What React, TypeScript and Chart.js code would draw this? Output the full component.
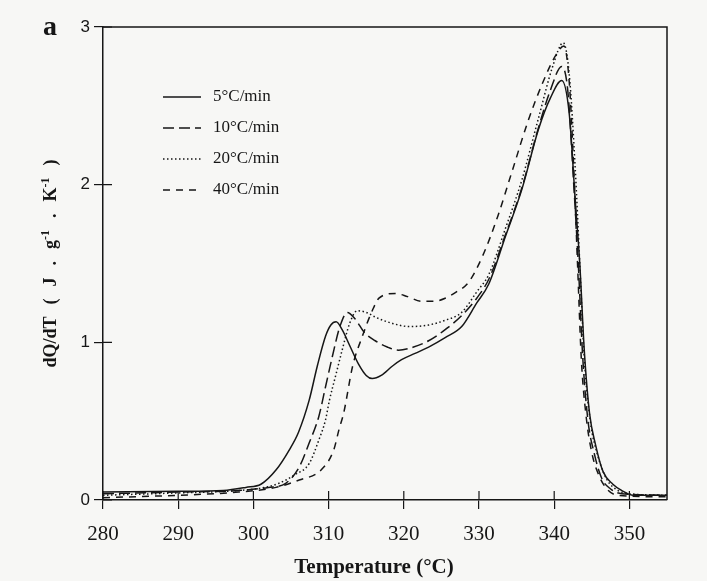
import React, { useEffect, useRef } from 'react';
import { Chart, registerables } from 'chart.js';

Chart.register(...registerables);

const xTickValues = [280, 290, 300, 310, 320, 330, 340, 350];
const yTickValues = [0, 1, 2, 3];
const seriesLabels = ['5°C/min', '10°C/min', '20°C/min', '40°C/min'];

const temp5 = [280, 290, 296, 299, 301, 303, 304.8, 306, 307.4, 308.5, 309.6, 310.3, 311, 311.8, 312.8, 314, 315, 315.8, 317, 318.5, 319.7, 321.5, 323.3, 325.5, 327.7, 329.7, 331.3, 333.5, 335.7, 337.9, 339.5, 341, 342, 342.8, 343.4, 344, 344.7, 345.5, 346.5, 347.8, 349, 350.5, 355];
const dq5 = [0.05, 0.055, 0.06, 0.08, 0.1, 0.19, 0.32, 0.43, 0.63, 0.85, 1.04, 1.11, 1.13, 1.08, 0.98, 0.86, 0.79, 0.77, 0.79, 0.85, 0.89, 0.93, 0.97, 1.03, 1.1, 1.25, 1.37, 1.67, 1.97, 2.35, 2.55, 2.66, 2.45, 1.9, 1.5, 0.95, 0.55, 0.35, 0.18, 0.1, 0.06, 0.03, 0.03];

const temp10 = [280, 290, 298, 302, 304.3, 306.1, 307.4, 308.7, 309.6, 310.5, 311.5, 312.5, 313.5, 314.8, 316.2, 317.8, 319.3, 321.3, 323.3, 325.5, 327.7, 329.7, 331.3, 333.5, 335.7, 337.9, 339.5, 341, 341.8, 342.6, 343.2, 343.8, 344.5, 345.3, 346.3, 347.5, 349, 355];
const dq10 = [0.04, 0.05, 0.06, 0.08, 0.106, 0.21, 0.36, 0.53, 0.72, 0.91, 1.1, 1.19, 1.15, 1.06, 1.01, 0.97, 0.95, 0.97, 1.01, 1.08, 1.17, 1.28, 1.4, 1.68, 1.98, 2.36, 2.6, 2.75, 2.6, 2.0, 1.5, 0.9, 0.5, 0.3, 0.14, 0.07, 0.04, 0.03];

const temp20 = [280, 290, 298, 301.5, 303.4, 305.5, 307.4, 308.7, 309.6, 310.1, 311, 311.8, 312.8, 313.8, 315, 316.2, 318.5, 320.7, 323.3, 325.5, 327.7, 329.7, 331.3, 333.5, 335.7, 337.9, 339.8, 341.2, 342, 342.8, 343.4, 344, 344.8, 345.8, 347, 348.5, 350, 355];
const dq20 = [0.03, 0.045, 0.06, 0.08, 0.106, 0.16, 0.23, 0.38, 0.51, 0.63, 0.8, 0.95, 1.12, 1.2, 1.19, 1.16, 1.12, 1.1, 1.11, 1.14, 1.19, 1.32, 1.43, 1.72, 2.03, 2.42, 2.75, 2.9, 2.7, 2.1, 1.5, 0.9, 0.5, 0.28, 0.13, 0.06, 0.04, 0.03];

const temp40 = [280, 290, 298, 303, 306.1, 309, 310.7, 311.4, 312, 313.2, 314.5, 315.8, 316.7, 318.9, 320.5, 322.4, 324, 325.5, 327, 328.6, 330.5, 332.5, 334.5, 336.5, 338.5, 340.2, 341.3, 342, 342.6, 343.1, 343.6, 344.2, 345, 346, 347.2, 348.5, 355];
const dq40 = [0.015, 0.03, 0.05, 0.08, 0.127, 0.19, 0.32, 0.45, 0.55, 0.85, 1.04, 1.2, 1.28, 1.31, 1.29, 1.26, 1.26, 1.28, 1.32, 1.38, 1.55, 1.8, 2.1, 2.4, 2.65, 2.82, 2.88, 2.65, 2.1, 1.5, 0.9, 0.55, 0.3, 0.15, 0.06, 0.03, 0.02];

const seriesTemps = [temp5, temp10, temp20, temp40];
const seriesValues = [dq5, dq10, dq20, dq40];
const seriesDashes: number[][] = [[], [11, 5], [1.5, 2.5], [7, 6]];

// y-axis title tokens: [text, isSuperscript]
const yTitleTokens: [string, boolean][] = [
  ['dQ/dT', false], ['(', false], ['J', false], ['.', false], ['g', false], ['-1', true],
  ['.', false], ['K', false], ['-1', true], [')', false],
];

const INK = '#161616';
const SERIF = '"Liberation Serif", "Times New Roman", serif';
const SANS = '"Liberation Sans", Arial, sans-serif';

const decorPlugin = {
  id: 'decor',
  afterDatasetsDraw(chart: any) {
    const { ctx, chartArea } = chart;
    const xs = chart.scales.x;
    const ys = chart.scales.y;
    ctx.save();
    ctx.strokeStyle = INK;
    ctx.lineWidth = 1.5;
    // top and right frame
    ctx.beginPath();
    ctx.moveTo(chartArea.left, chartArea.top);
    ctx.lineTo(chartArea.right, chartArea.top);
    ctx.lineTo(chartArea.right, chartArea.bottom);
    ctx.stroke();
    // inner tick marks
    ctx.lineWidth = 1.2;
    ctx.beginPath();
    xTickValues.forEach((v) => {
      const px = xs.getPixelForValue(v);
      ctx.moveTo(px, chartArea.bottom);
      ctx.lineTo(px, chartArea.bottom - 9);
    });
    yTickValues.forEach((v) => {
      const py = ys.getPixelForValue(v);
      ctx.moveTo(chartArea.left, py);
      ctx.lineTo(chartArea.left + 9, py);
    });
    ctx.stroke();
    // legend
    const lx = chartArea.left + 60;
    const ly = chartArea.top + 70;
    chart.data.datasets.forEach((ds: any, i: number) => {
      const y = ly + i * 31;
      ctx.save();
      ctx.setLineDash(ds.borderDash || []);
      ctx.lineWidth = 1.4;
      ctx.strokeStyle = INK;
      ctx.beginPath();
      ctx.moveTo(lx, y);
      ctx.lineTo(lx + 38, y);
      ctx.stroke();
      ctx.restore();
      ctx.fillStyle = INK;
      ctx.font = '17px ' + SERIF;
      ctx.textAlign = 'left';
      ctx.textBaseline = 'middle';
      ctx.fillText(ds.label, lx + 50, y);
    });
    // x title
    ctx.fillStyle = INK;
    ctx.font = 'bold 21px ' + SERIF;
    ctx.textAlign = 'center';
    ctx.textBaseline = 'middle';
    ctx.fillText('Temperature (°C)', (chartArea.left + chartArea.right) / 2 - 11, chartArea.bottom + 68);
    // y title (rotated, tokens with superscripts)
    ctx.save();
    ctx.translate(chartArea.left - 53, (chartArea.top + chartArea.bottom) / 2);
    ctx.rotate(-Math.PI / 2);
    ctx.textAlign = 'left';
    ctx.textBaseline = 'alphabetic';
    const mainFont = 'bold 18px ' + SERIF;
    const supFont = 'bold 12px ' + SERIF;
    const gap = 12;
    let total = 0;
    yTitleTokens.forEach(([t, sup], i) => {
      ctx.font = sup ? supFont : mainFont;
      total += ctx.measureText(t).width;
      if (i < yTitleTokens.length - 1 && !yTitleTokens[i + 1][1]) total += gap;
    });
    let x = -total / 2;
    yTitleTokens.forEach(([t, sup], i) => {
      ctx.font = sup ? supFont : mainFont;
      ctx.fillText(t, x, sup ? -1 : 6);
      x += ctx.measureText(t).width;
      if (i < yTitleTokens.length - 1 && !yTitleTokens[i + 1][1]) x += gap;
    });
    ctx.restore();
    ctx.font = 'bold 28px ' + SERIF;
    ctx.textAlign = 'center';
    ctx.textBaseline = 'middle';
    ctx.fillText('a', chartArea.left - 53, chartArea.top + 1);
    ctx.restore();
  },
};

export default function App() {
  const canvasRef = useRef<HTMLCanvasElement | null>(null);

  useEffect(() => {
    const canvas = canvasRef.current;
    if (!canvas) return;
    const chart = new Chart(canvas, {
      type: 'line',
      data: {
        datasets: seriesLabels.map((label, i) => ({
          label,
          data: seriesTemps[i].map((t, j) => ({ x: t, y: seriesValues[i][j] })),
          borderColor: INK,
          borderWidth: 1.5,
          borderDash: seriesDashes[i],
          pointRadius: 0,
          fill: false,
          cubicInterpolationMode: 'monotone' as const,
        })),
      },
      options: {
        animation: false,
        responsive: false,
        maintainAspectRatio: false,
        layout: { padding: { top: 27, right: 40, left: 0, bottom: 0 } },
        plugins: { legend: { display: false }, tooltip: { enabled: false } },
        scales: {
          x: {
            type: 'linear',
            min: 280,
            max: 355,
            afterBuildTicks: (scale: any) => {
              scale.ticks = xTickValues.map((v) => ({ value: v }));
            },
            afterFit: (scale: any) => {
              scale.height = 81;
            },
            grid: { drawOnChartArea: false, drawTicks: true, tickLength: 9, color: INK, lineWidth: 1.2 },
            border: { display: true, color: INK, width: 1.5 },
            ticks: {
              color: INK,
              padding: 13,
              maxRotation: 0,
              autoSkip: false,
              font: { family: SERIF, size: 21 },
            },
          },
          y: {
            type: 'linear',
            min: 0,
            max: 3,
            afterBuildTicks: (scale: any) => {
              scale.ticks = yTickValues.map((v) => ({ value: v }));
            },
            afterFit: (scale: any) => {
              scale.width = 103;
            },
            grid: { drawOnChartArea: false, drawTicks: true, tickLength: 9, color: INK, lineWidth: 1.2 },
            border: { display: true, color: INK, width: 1.5 },
            ticks: {
              color: INK,
              padding: 4,
              font: { family: SANS, size: 17 },
            },
          },
        },
      },
      plugins: [decorPlugin],
    });
    return () => chart.destroy();
  }, []);

  return (
    <div style={{ position: 'fixed', top: 0, left: 0, width: 707, height: 581, background: '#f7f7f5' }}>
      <canvas ref={canvasRef} width={707} height={581} style={{ display: 'block', width: 707, height: 581 }} />
    </div>
  );
}
